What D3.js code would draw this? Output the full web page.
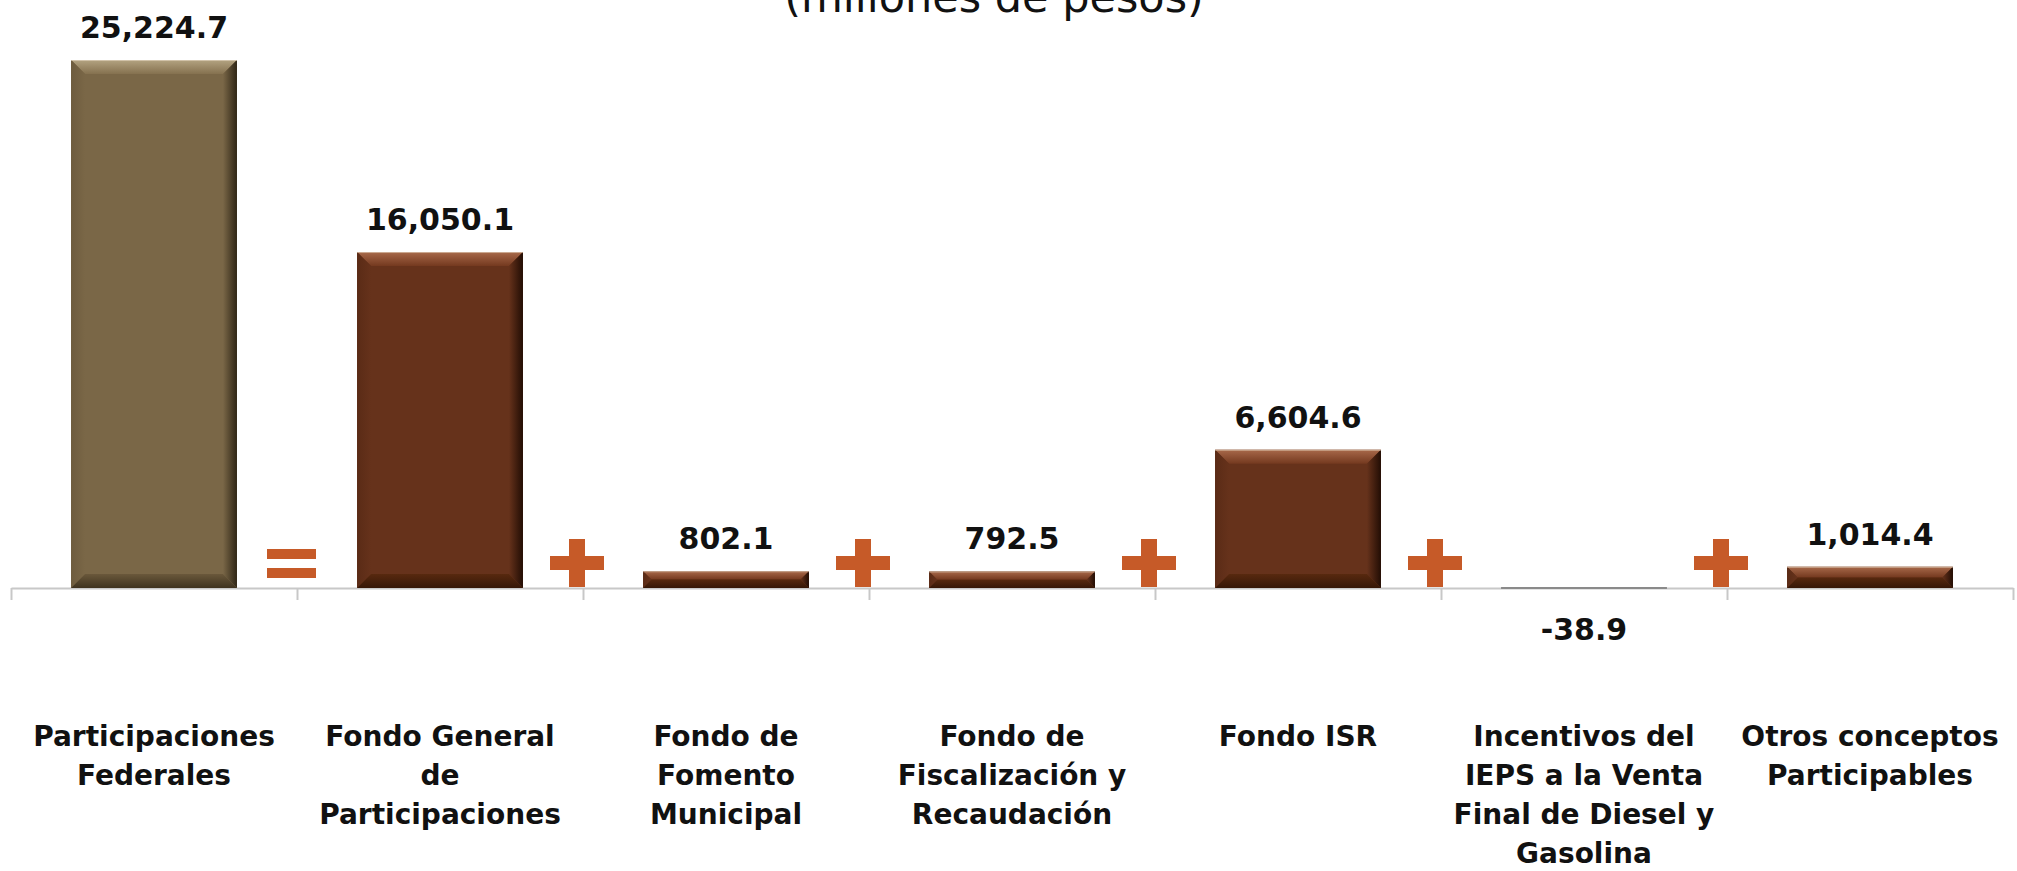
<!DOCTYPE html>
<html>
<head>
<meta charset="utf-8">
<script src="https://cdn.jsdelivr.net/npm/d3@7"></script>
<style>
    body { margin: 0; background: #ffffff; }
    svg { display: block; }
</style>
</head>
<body>
<div id="chart"></div>
<script>
// chart data
var categories = [
    "Participaciones\nFederales",
    "Fondo General\nde\nParticipaciones",
    "Fondo de\nFomento\nMunicipal",
    "Fondo de\nFiscalización y\nRecaudación",
    "Fondo ISR",
    "Incentivos del\nIEPS a la Venta\nFinal de Diesel y\nGasolina",
    "Otros conceptos\nParticipables"
];
var values = [25224.7, 16050.1, 802.1, 792.5, 6604.6, -38.9, 1014.4];
var operators = ["=", "+", "+", "+", "+", "+"];
var subtitle = "(millones de pesos)";

function init() {
    var w = 2017;
    var h = 871;
    var left = 11, right = 2013;
    var base = 588, top = 60;
    var font = "'DejaVu Sans', sans-serif";

    var svg = d3.select("#chart")
        .append("svg")
        .attr("width", w)
        .attr("height", h);

    var defs = svg.append("defs");

    // gradients for the bevel faces
    function grad(id, x2, y2, c1, c2) {
        var g = defs.append("linearGradient")
            .attr("id", id)
            .attr("x1", 0).attr("y1", 0)
            .attr("x2", x2).attr("y2", y2);
        g.append("stop").attr("offset", "0%").attr("stop-color", c1);
        g.append("stop").attr("offset", "100%").attr("stop-color", c2);
    }
    var palettes = {
        olive: { main: "#7a6747", top: ["#b3a381", "#85714f"], left: ["#6e5c3e", "#7a6747"], right: ["#7a6747", "#2f2616"], bottom: ["#6a583b", "#3f331f"] },
        brown: { main: "#66321b", top: ["#a8694a", "#74391f"], left: ["#5a2b16", "#66321b"], right: ["#66321b", "#220d04"], bottom: ["#58290f", "#361707"] }
    };
    Object.keys(palettes).forEach(function (k) {
        var p = palettes[k];
        grad(k + "-top", 0, 1, p.top[0], p.top[1]);
        grad(k + "-left", 1, 0, p.left[0], p.left[1]);
        grad(k + "-right", 1, 0, p.right[0], p.right[1]);
        grad(k + "-bottom", 0, 1, p.bottom[0], p.bottom[1]);
    });

    var xScale = d3.scaleBand()
        .domain(d3.range(categories.length))
        .range([left, right])
        .paddingInner(0.42)
        .paddingOuter(0.21);

    var slot = d3.scaleLinear()
        .domain([0, categories.length])
        .range([left, right]);

    var yScale = d3.scaleLinear()
        .domain([0, d3.max(values)])
        .range([base, top]);

    // subtitle (cut at top edge like the source)
    svg.append("text")
        .attr("x", 994)
        .attr("y", 12)
        .attr("text-anchor", "middle")
        .attr("font-family", font)
        .attr("font-size", 43)
        .attr("fill", "#111")
        .text(subtitle);

    // x axis with ticks on category boundaries
    var xAxis = d3.axisBottom(slot)
        .tickValues(d3.range(categories.length + 1))
        .tickFormat("")
        .tickSizeInner(12)
        .tickSizeOuter(0);

    var axisG = svg.append("g")
        .attr("transform", "translate(0," + base + ")")
        .call(xAxis);
    axisG.selectAll("path, line")
        .attr("stroke", "#c8c8c8")
        .attr("stroke-width", 2);

    // bars with bevel
    var bars = svg.selectAll("g.bar")
        .data(values)
        .enter()
        .append("g")
        .attr("class", "bar");

    bars.each(function (d, i) {
        var g = d3.select(this);
        var pal = i === 0 ? "olive" : "brown";
        var x0 = xScale(i);
        var bw = xScale.bandwidth();
        var y0 = Math.min(yScale(d), yScale(0));
        var bh = Math.abs(yScale(d) - yScale(0));
        if (d < 0) {
            g.append("rect")
                .attr("x", x0).attr("y", base - 1)
                .attr("width", bw).attr("height", 2)
                .attr("fill", "#8a8a8a");
            return;
        }
        var b = Math.min(14, bh / 2, bw / 2);
        g.append("rect")
            .attr("x", x0).attr("y", y0)
            .attr("width", bw).attr("height", bh)
            .attr("fill", palettes[pal].main);
        var x1 = x0 + bw, y1 = y0 + bh;
        var faces = [
            ["top", [[x0, y0], [x1, y0], [x1 - b, y0 + b], [x0 + b, y0 + b]]],
            ["left", [[x0, y0], [x0 + b, y0 + b], [x0 + b, y1 - b], [x0, y1]]],
            ["right", [[x1, y0], [x1, y1], [x1 - b, y1 - b], [x1 - b, y0 + b]]],
            ["bottom", [[x0, y1], [x0 + b, y1 - b], [x1 - b, y1 - b], [x1, y1]]]
        ];
        faces.forEach(function (f) {
            g.append("polygon")
                .attr("points", f[1].map(function (p) { return p.join(","); }).join(" "))
                .attr("fill", "url(#" + pal + "-" + f[0] + ")");
        });
        g.append("line")
            .attr("x1", x0).attr("x2", x1)
            .attr("y1", y0 + 0.5).attr("y2", y0 + 0.5)
            .attr("stroke", "#e6d8c4")
            .attr("stroke-opacity", 0.6);
    });

    // value labels (plain hyphen for negatives)
    var fmt = d3.formatLocale({ decimal: ".", thousands: ",", grouping: [3], currency: ["$", ""], minus: "-" })
        .format(",.1f");
    svg.selectAll("text.value")
        .data(values)
        .enter()
        .append("text")
        .attr("class", "value")
        .attr("x", function (d, i) { return xScale(i) + xScale.bandwidth() / 2; })
        .attr("y", function (d) {
            return d < 0 ? yScale(0) + 52 : yScale(d) - 22;
        })
        .attr("text-anchor", "middle")
        .attr("font-family", font)
        .attr("font-weight", "bold")
        .attr("font-size", 30)
        .attr("fill", "#111")
        .text(function (d) { return fmt(d); });

    // category labels
    var cats = svg.selectAll("text.cat")
        .data(categories)
        .enter()
        .append("text")
        .attr("class", "cat")
        .attr("text-anchor", "middle")
        .attr("font-family", font)
        .attr("font-weight", "bold")
        .attr("font-size", 28)
        .attr("fill", "#111");

    cats.each(function (d, i) {
        var t = d3.select(this);
        d.split("\n").forEach(function (line, j) {
            t.append("tspan")
                .attr("x", xScale(i) + xScale.bandwidth() / 2)
                .attr("y", 746 + j * 39)
                .text(line);
        });
    });

    // operator symbols between the bars
    var opColor = "#c65a28";
    var opY = base - 25;
    var ops = svg.selectAll("g.op")
        .data(operators)
        .enter()
        .append("g")
        .attr("class", "op")
        .attr("transform", function (d, i) {
            return "translate(" + (slot(i + 1) - 6) + "," + opY + ")";
        });

    ops.each(function (d) {
        var g = d3.select(this);
        if (d === "=") {
            g.append("rect").attr("x", -24).attr("y", -14).attr("width", 49).attr("height", 10).attr("fill", opColor);
            g.append("rect").attr("x", -24).attr("y", 5).attr("width", 49).attr("height", 10).attr("fill", opColor);
        } else {
            g.append("rect").attr("x", -27).attr("y", -7).attr("width", 54).attr("height", 14).attr("fill", opColor);
            g.append("rect").attr("x", -8).attr("y", -24).attr("width", 16).attr("height", 48).attr("fill", opColor);
        }
    });
}
window.onload = init;
</script>
</body>
</html>
